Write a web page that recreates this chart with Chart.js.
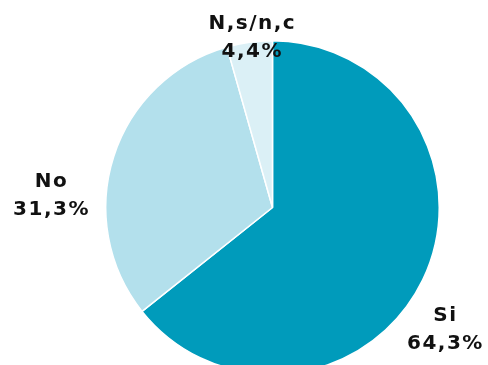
<!DOCTYPE html>
<html>
<head>
<meta charset="utf-8">
<script src="https://cdn.jsdelivr.net/npm/chart.js@4"></script>
<style>
  html, body { margin: 0; padding: 0; background: #fff; overflow: hidden; }
  #chart { display: block; }
</style>
</head>
<body>
<canvas id="chart" width="488" height="415"></canvas>
<script>
'use strict';

// datos del grafico
const categories = ['Si', 'No', 'N,s/n,c'];
const values = [64.3, 31.3, 4.4];
const valueLabels = ['64,3%', '31,3%', '4,4%'];
const colors = ['#009bbb', '#b3e0ec', '#dbf0f6'];

// desplazamiento de cada etiqueta respecto al borde del sector (px)
const labelShift = [[22, 50], [-63, 39], [2, -5]];

/**
 * Etiquetas fuera del sector, dos lineas: categoria y porcentaje
 */
const outsideLabels = {
    id: 'outsideLabels',
    afterDatasetsDraw(chart) {
        const ctx = chart.ctx;
        const meta = chart.getDatasetMeta(0);
        ctx.save();
        ctx.font = 'bold 20px "DejaVu Sans"';
        ctx.letterSpacing = '1.5px';
        ctx.fillStyle = '#111';
        ctx.textAlign = 'center';
        ctx.textBaseline = 'middle';
        meta.data.forEach((arc, i) => {
            const p = arc.getProps(['x', 'y', 'startAngle', 'endAngle', 'outerRadius'], true);
            const mid = (p.startAngle + p.endAngle) / 2;
            const ax = p.x + Math.cos(mid) * p.outerRadius + labelShift[i][0] + 0.75;
            const ay = p.y + Math.sin(mid) * p.outerRadius + labelShift[i][1];
            ctx.fillText(categories[i], ax, ay - 14);
            ctx.fillText(valueLabels[i], ax, ay + 14);
        });
        ctx.restore();
    }
};

const ctx = document.getElementById('chart').getContext('2d');
new Chart(ctx, {
    type: 'pie',
    data: {
        labels: categories,
        datasets: [{
            data: values,
            backgroundColor: colors,
            borderColor: '#ffffff',
            borderWidth: 1.5
        }]
    },
    options: {
        responsive: false,
        animation: false,
        layout: { padding: { top: 40, bottom: 40, left: 105, right: 48 } },
        plugins: {
            legend: { display: false },
            tooltip: { enabled: false }
        }
    },
    plugins: [outsideLabels]
});
</script>
</body>
</html>
